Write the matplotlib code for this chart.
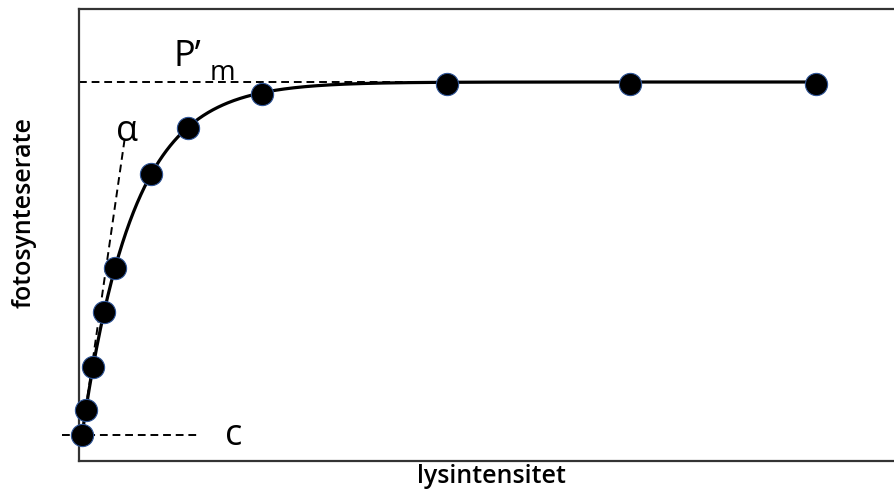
import numpy as np
import matplotlib.pyplot as plt

# light intensity (arbitrary units) and photosynthesis rate
lys = [3, 7, 14, 25, 36, 72, 109, 183, 368, 552, 738]
foto = [26, 51, 94, 149, 193, 287, 333, 367, 377, 377, 377]

c_val = foto[0]
pm_val = 379

# fit the initial slope alpha of P = c + (Pm - c) * (1 - exp(-a*(I - I0)/(Pm - c)))
x = np.array(lys, dtype=float)
y = np.array(foto, dtype=float)
span = pm_val - c_val
best_a, best_err = None, None
for a in np.linspace(3, 10, 701):
    pred = c_val + span * (1 - np.exp(-a * (x - x[0]) / span))
    err = np.sum((pred - y) ** 2)
    if best_err is None or err < best_err:
        best_a, best_err = a, err

xs = np.linspace(x[0], x[-1], 600)
ys = c_val + span * (1 - np.exp(-best_a * (xs - x[0]) / span))

plt.rcParams['font.family'] = ['Open Sans', 'DejaVu Sans']

fig = plt.figure(figsize=(8.95, 4.97), dpi=100)
ax = fig.add_axes([79 / 895, 36 / 497, 1 - 79 / 895 + 0.01, 452 / 497])
ax.set_xlim(0, 826)
ax.set_ylim(0, 452)

# dashed guides
ax.plot([0, lys[-1]], [pm_val, pm_val], ls=(0, (4, 2.5)), color='black', lw=1.4, zorder=1)
ax.plot([-17, 119], [c_val, c_val], ls=(0, (4, 2.5)), color='black', lw=1.4, zorder=1, clip_on=False)
ax.plot([lys[0], 46], [c_val, c_val + 6.93 * 43], ls=(0, (4, 2.5)), color='black', lw=1.4, zorder=1)

ax.plot(xs, ys, color='black', lw=2.3, zorder=2)
ax.plot(lys, foto, 'o', ms=16, mfc='black', mec='#2f5597', mew=0.8, zorder=3, clip_on=False)

ax.text(95, 395, 'P\u2019', fontsize=26, ha='left', va='baseline')
ax.text(131, 381, 'm', fontsize=20, ha='left', va='baseline')
ax.text(37, 320, '\u03b1', fontsize=26, ha='left', va='baseline')
ax.text(146, 16, 'c', fontsize=26, ha='left', va='baseline')

for side in ['top', 'left', 'bottom']:
    ax.spines[side].set_color('#333333')
    ax.spines[side].set_linewidth(1.6)
ax.spines['right'].set_visible(False)
ax.set_xticks([])
ax.set_yticks([])
ax.set_xlabel('lysintensitet', fontsize=18, fontweight='semibold', labelpad=2)
ax.set_ylabel('fotosynteserate', fontsize=18, fontweight='semibold')
ax.yaxis.set_label_coords(-0.051, 0.55)

fig.savefig('out.png', dpi=100)
